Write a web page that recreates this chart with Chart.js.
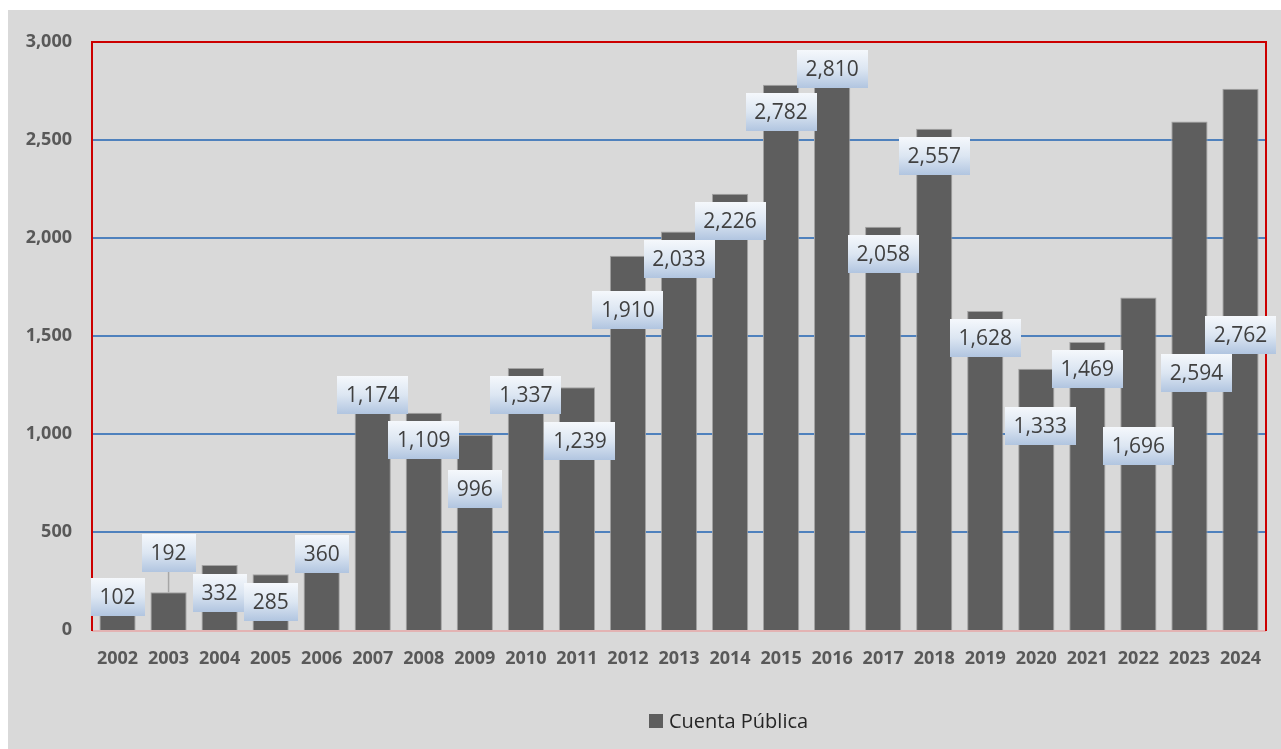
<!DOCTYPE html>
<html>
<head>
<meta charset="utf-8">
<script src="https://cdn.jsdelivr.net/npm/chart.js@4/dist/chart.umd.min.js"></script>
<style>
  html, body { margin: 0; padding: 0; background: #ffffff; }
  #wrap { position: absolute; left: 8px; top: 10px; width: 1273px; height: 739px; background: #d9d9d9; }
</style>
</head>
<body>
<div id="wrap"><canvas id="chart"></canvas></div>
<script>
const years = ['2002', '2003', '2004', '2005', '2006', '2007', '2008', '2009', '2010', '2011', '2012',
  '2013', '2014', '2015', '2016', '2017', '2018', '2019', '2020', '2021', '2022', '2023', '2024'];
const cuentaPublica = [102, 192, 332, 285, 360, 1174, 1109, 996, 1337, 1239, 1910,
  2033, 2226, 2782, 2810, 2058, 2557, 1628, 1333, 1469, 1696, 2594, 2762];
const seriesName = 'Cuenta Pública';

// where each value box sits, in px from the top of its bar (the boxes were moved by hand)
const labelShift = [[0, -13], [0, -39], [0, 28], [0, 28], [0, -5], [0, -5], [0, 27], [0, 54],
  [0, 27], [3, 54], [0, 54], [0, 27], [0, 27], [0, 27], [0, -10], [0, 27], [0, 27], [0, 27],
  [4, 57], [0, 27], [0, 148], [7, 251], [0, 246]];

const fmt = v => v.toLocaleString('en-US');

// red frame round the plot area, pink line at the bottom
const framePlugin = {
  id: 'frame',
  afterDatasetsDraw(chart) {
    const { ctx, chartArea: a } = chart;
    ctx.save();
    ctx.strokeStyle = '#e3b3b3';
    ctx.lineWidth = 2;
    ctx.beginPath();
    ctx.moveTo(a.left, a.bottom + 1);
    ctx.lineTo(a.right, a.bottom + 1);
    ctx.stroke();
    ctx.strokeStyle = '#cc0000';
    ctx.beginPath();
    ctx.moveTo(a.left, a.bottom + 1);
    ctx.lineTo(a.left, a.top);
    ctx.lineTo(a.right, a.top);
    ctx.lineTo(a.right, a.bottom + 1);
    ctx.stroke();
    ctx.restore();
  }
};

// data labels in gradient boxes, plus the legend
const labelPlugin = {
  id: 'boxLabels',
  afterDraw(chart) {
    const { ctx } = chart;
    const bars = chart.getDatasetMeta(0).data;
    ctx.save();
    ctx.font = '21px "Open Sans"';
    ctx.textAlign = 'center';
    ctx.textBaseline = 'middle';
    bars.forEach((bar, i) => {
      const txt = fmt(cuentaPublica[i]);
      const [dx, dy] = labelShift[i];
      const cx = bar.x + dx, cy = bar.y + dy;
      const w = Math.round(ctx.measureText(txt).width + 18), h = 38;
      const x0 = Math.round(cx - w / 2), y0 = Math.round(cy - h / 2);
      if (bar.y - (y0 + h) > 2) {
        // leader line down to the bar
        ctx.strokeStyle = '#a6a6a6';
        ctx.lineWidth = 1.5;
        ctx.beginPath();
        ctx.moveTo(bar.x, y0 + h);
        ctx.lineTo(bar.x, bar.y);
        ctx.stroke();
      }
      const g = ctx.createLinearGradient(0, y0, 0, y0 + h);
      g.addColorStop(0, '#f5f8fc');
      g.addColorStop(0.5, '#dce6f2');
      g.addColorStop(1, '#b1c5e0');
      ctx.fillStyle = g;
      ctx.fillRect(x0, y0, w, h);
      ctx.fillStyle = '#404040';
      ctx.fillText(txt, cx, cy + 1);
    });

    // legend
    ctx.fillStyle = '#5e5e5e';
    ctx.fillRect(641, 704, 14, 14);
    ctx.fillStyle = '#262626';
    ctx.font = '20px "Open Sans"';
    ctx.textAlign = 'left';
    ctx.fillText(seriesName, 661, 712);
    ctx.restore();
  }
};

const config = {
  type: 'bar',
  data: {
    labels: years,
    datasets: [{
      label: seriesName,
      data: cuentaPublica,
      backgroundColor: '#5e5e5e',
      borderColor: '#a3a3a3',
      borderWidth: 1,
      categoryPercentage: 1,
      barPercentage: 0.71,
    }],
  },
  options: {
    responsive: true,
    maintainAspectRatio: false,
    animation: false,
    layout: { padding: { top: 32, right: 15, left: 0, bottom: 0 } },
    plugins: {
      legend: { display: false },
      tooltip: { enabled: false },
    },
    scales: {
      x: {
        grid: { display: false, drawTicks: false },
        border: { display: false },
        ticks: {
          color: '#595959',
          font: { family: 'Open Sans', size: 18, weight: 'bold' },
          padding: 18,
          maxRotation: 0,
          autoSkip: false,
        },
        afterFit: s => { s.height = 119; },
      },
      y: {
        min: 0,
        max: 3000,
        grid: {
          drawTicks: false,
          lineWidth: c => (c.tick.value === 0 || c.tick.value === 3000 ? 0 : 2),
          color: '#4f81bd',
        },
        border: { display: false },
        ticks: {
          stepSize: 500,
          color: '#595959',
          font: { family: 'Open Sans', size: 18, weight: 'bold' },
          padding: 20,
          callback: v => fmt(v),
        },
        afterFit: s => { s.width = 84; },
      },
    },
  },
  plugins: [framePlugin, labelPlugin],
};

new Chart(document.getElementById('chart'), config);
</script>
</body>
</html>
